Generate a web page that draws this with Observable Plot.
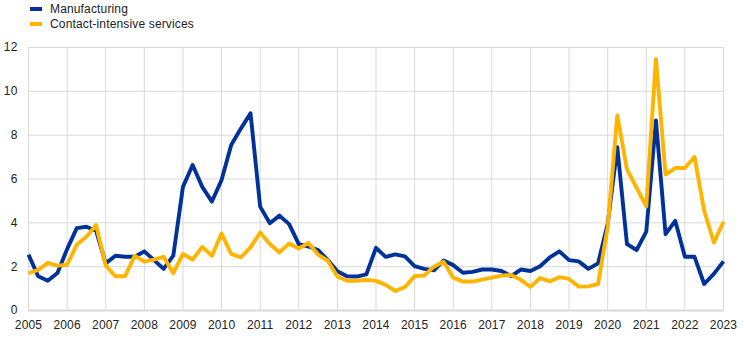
<!DOCTYPE html>
<html>
<head>
<meta charset="utf-8">
<script src="https://cdn.jsdelivr.net/npm/d3@7"></script>
<script src="https://cdn.jsdelivr.net/npm/@observablehq/plot@0.6"></script>
<style>
  html, body { margin: 0; padding: 0; background: #fff; }
  body { width: 744px; height: 345px; overflow: hidden; font-family: "Liberation Sans", Arial, sans-serif; }
  #legend { position: relative; height: 36px; font-size: 12px; letter-spacing: 0.15px; color: #222; }
  .item { position: absolute; left: 30px; display: flex; align-items: center; height: 14px; }
  .sw { width: 12px; height: 4px; margin-right: 8px; }
  #chart svg { display: block; }
</style>
</head>
<body>
<div id="legend"></div>
<div id="chart"></div>
<script>
// Quarterly observations starting 2005 Q1 (first point plotted at 2005.00)
const startYear = 2005;
const seriesNames = ["Manufacturing", "Contact-intensive services"];
const seriesColors = ["#003299", "#ffb400"];
const manufacturing = [
  2.55, 1.56, 1.36, 1.71, 2.80, 3.76, 3.82, 3.64,
  2.15, 2.50, 2.45, 2.45, 2.70, 2.30, 1.90, 2.50,
  5.64, 6.64, 5.64, 4.97, 5.95, 7.55, 8.30, 9.00,
  4.74, 3.98, 4.33, 3.94, 3.03, 2.92, 2.76, 2.30,
  1.79, 1.56, 1.55, 1.65, 2.86, 2.45, 2.56, 2.47,
  2.03, 1.90, 1.83, 2.28, 2.07, 1.72, 1.76, 1.87,
  1.87, 1.80, 1.57, 1.87, 1.80, 2.02, 2.42, 2.70,
  2.30, 2.24, 1.90, 2.15, 3.95, 7.45, 3.03, 2.76,
  3.60, 8.67, 3.48, 4.09, 2.45, 2.45, 1.21, 1.67,
  2.24
];
const contactServices = [
  1.70, 1.85, 2.17, 2.05, 2.09, 3.00, 3.36, 3.90,
  2.05, 1.56, 1.56, 2.50, 2.23, 2.32, 2.45, 1.70,
  2.58, 2.33, 2.90, 2.50, 3.51, 2.58, 2.42, 2.88,
  3.56, 3.03, 2.65, 3.06, 2.83, 3.08, 2.55, 2.27,
  1.55, 1.36, 1.36, 1.40, 1.35, 1.17, 0.89, 1.07,
  1.57, 1.60, 2.00, 2.22, 1.50, 1.32, 1.32, 1.41,
  1.50, 1.59, 1.62, 1.40, 1.08, 1.48, 1.33, 1.52,
  1.44, 1.09, 1.10, 1.20, 3.80, 8.90, 6.44, 5.60,
  4.75, 11.48, 6.20, 6.50, 6.50, 7.00, 4.55, 3.10,
  4.05
];
const yearTicks = d3.range(2005, 2024);
const yTicks = [0, 2, 4, 6, 8, 10, 12];

// legend
const legend = document.getElementById("legend");
seriesNames.forEach((name, i) => {
  const it = document.createElement("div");
  it.className = "item";
  it.style.top = (2 + i * 15) + "px";
  it.innerHTML = `<span class="sw" style="background:${seriesColors[i]}"></span><span>${name}</span>`;
  legend.appendChild(it);
});

const rows = [];
[manufacturing, contactServices].forEach((arr, s) => {
  arr.forEach((v, i) => rows.push({series: seriesNames[s], t: startYear + i / 4, v}));
});

const chart = Plot.plot({
  width: 744,
  height: 309,
  marginTop: 11,
  marginBottom: 35,
  marginLeft: 28,
  marginRight: 21,
  style: {fontFamily: "'Liberation Sans', Arial, sans-serif", fontSize: "12px", color: "#222", background: "#fff", letterSpacing: "0.15px"},
  x: {domain: [2005, 2023], label: null},
  y: {domain: [0, 12], label: null},
  color: {domain: seriesNames, range: seriesColors},
  marks: [
    Plot.gridX(yearTicks, {stroke: "#d9d9d9", strokeOpacity: 1, strokeWidth: 1}),
    Plot.gridY(yTicks, {stroke: "#d9d9d9", strokeOpacity: 1, strokeWidth: 1}),
    Plot.ruleY([0], {stroke: "#d9d9d9", strokeWidth: 2}),
    Plot.axisX({ticks: yearTicks, tickFormat: d => String(d), tickSize: 0, tickPadding: 10, fontSize: 12}),
    Plot.axisY({ticks: yTicks, tickSize: 0, tickPadding: 11, fontSize: 12}),
    Plot.line(rows, {x: "t", y: "v", z: "series", stroke: "series", strokeWidth: 3.9, strokeLinejoin: "round", strokeLinecap: "butt"})
  ]
});
document.getElementById("chart").appendChild(chart);
</script>
</body>
</html>
